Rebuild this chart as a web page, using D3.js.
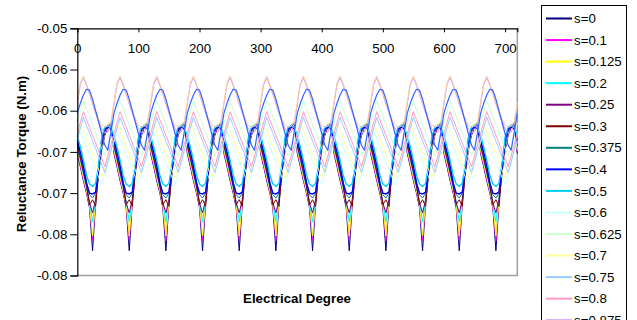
<!DOCTYPE html>
<html>
<head>
<meta charset="utf-8">
<script src="https://cdn.jsdelivr.net/npm/d3@7"></script>
<style>
  body { margin: 0; background: #fff; }
  svg { display: block; font-family: Arial, "Liberation Sans", sans-serif; }
</style>
</head>
<body>
<svg id="chart" width="637" height="320"></svg>
<script>
// series names (legend order)
const sLabels = ['s=0', 's=0.1', 's=0.125', 's=0.2', 's=0.25', 's=0.3', 's=0.375', 's=0.4',
  's=0.5', 's=0.6', 's=0.625', 's=0.7', 's=0.75', 's=0.8', 's=0.875', 's=0.9', 's=1'];

// one 60 deg period, every 5 deg (all 12 periods look the same)
const periodDeg = [0, 5, 10, 15, 20, 25, 30, 35, 40, 45, 50, 55];
const torqueS0    = [-0.0652, -0.0668, -0.0685, -0.0700, -0.0718, -0.0770, -0.0712, -0.0675, -0.0648, -0.0630, -0.0620, -0.0615];
const torqueS010  = [-0.0650, -0.0666, -0.0683, -0.0698, -0.0715, -0.0758, -0.0710, -0.0673, -0.0646, -0.0628, -0.0619, -0.0614];
const torqueS0125 = [-0.0648, -0.0664, -0.0681, -0.0697, -0.0714, -0.0752, -0.0709, -0.0672, -0.0645, -0.0627, -0.0617, -0.0613];
const torqueS020  = [-0.0645, -0.0660, -0.0677, -0.0693, -0.0710, -0.0735, -0.0706, -0.0670, -0.0643, -0.0626, -0.0617, -0.0615];
const torqueS025  = [-0.0643, -0.0658, -0.0675, -0.0691, -0.0712, -0.0724, -0.0708, -0.0671, -0.0642, -0.0625, -0.0618, -0.0617];
const torqueS030  = [-0.0641, -0.0656, -0.0673, -0.0690, -0.0714, -0.0708, -0.0716, -0.0673, -0.0641, -0.0625, -0.0619, -0.0619];
const torqueS0375 = [-0.0638, -0.0652, -0.0668, -0.0686, -0.0702, -0.0706, -0.0700, -0.0668, -0.0638, -0.0624, -0.0620, -0.0621];
const torqueS040  = [-0.0636, -0.0650, -0.0666, -0.0688, -0.0700, -0.0701, -0.0699, -0.0670, -0.0636, -0.0622, -0.0620, -0.0622];
const torqueS050  = [-0.0630, -0.0644, -0.0660, -0.0678, -0.0689, -0.0692, -0.0688, -0.0664, -0.0632, -0.0620, -0.0618, -0.0620];
const torqueS060  = [-0.0638, -0.0625, -0.0634, -0.0644, -0.0653, -0.0662, -0.0671, -0.0681, -0.0690, -0.0677, -0.0664, -0.0651];
const torqueS0625 = [-0.0615, -0.0601, -0.0588, -0.0598, -0.0607, -0.0617, -0.0627, -0.0636, -0.0646, -0.0655, -0.0642, -0.0628];
const torqueS070  = [-0.0628, -0.0615, -0.0625, -0.0634, -0.0644, -0.0653, -0.0663, -0.0672, -0.0682, -0.0669, -0.0655, -0.0642];
const torqueS075  = [-0.0635, -0.0621, -0.0608, -0.0618, -0.0627, -0.0637, -0.0646, -0.0656, -0.0665, -0.0675, -0.0662, -0.0648];
const torqueS080  = [-0.0628, -0.0614, -0.0601, -0.0611, -0.0620, -0.0630, -0.0639, -0.0649, -0.0658, -0.0668, -0.0655, -0.0641];
const torqueS0875 = [-0.0592, -0.0568, -0.0560, -0.0569, -0.0580, -0.0592, -0.0603, -0.0613, -0.0622, -0.0627, -0.0626, -0.0616];
const torqueS090  = [-0.0590, -0.0566, -0.0558, -0.0567, -0.0578, -0.0590, -0.0601, -0.0610, -0.0617, -0.0620, -0.0619, -0.0613];
const torqueS1    = [-0.0603, -0.0591, -0.0581, -0.0574, -0.0575, -0.0586, -0.0600, -0.0614, -0.0628, -0.0642, -0.0648, -0.0626];

const periods = 12;
const xTicks = [0, 100, 200, 300, 400, 500, 600, 700];
const yTicks = [-0.05, -0.055, -0.06, -0.065, -0.07, -0.075, -0.08];
const yTickLabels = ['-0.05', '-0.06', '-0.06', '-0.07', '-0.07', '-0.08', '-0.08'];

// Excel default series colours
const colors = ['#000080', '#FF00FF', '#FFFF00', '#00FFFF', '#800080', '#800000', '#008080', '#0000FF',
  '#00CCFF', '#CCFFFF', '#CCFFCC', '#FFFF99', '#99CCFF', '#FF99CC', '#CC99FF', '#FFCC99', '#3366FF'];
const widths = [1, 1, 1, 1, 1, 1, 1, 1.5, 1.3, 1, 1, 1, 1, 1, 1, 1, 1.2];

const periodValues = [torqueS0, torqueS010, torqueS0125, torqueS020, torqueS025, torqueS030, torqueS0375,
  torqueS040, torqueS050, torqueS060, torqueS0625, torqueS070, torqueS075, torqueS080, torqueS0875,
  torqueS090, torqueS1];

const series = periodValues.map((vals, i) => {
  const pts = [];
  for (let k = 0; k < periods; k++) {
    periodDeg.forEach((d, j) => pts.push([k * 60 + d, vals[j]]));
  }
  pts.push([periods * 60, vals[0]]);
  return {name: sLabels[i], color: colors[i], width: widths[i], points: pts};
});

const svg = d3.select('#chart');
const x = d3.scaleLinear().domain([0, 720]).range([77.3, 517.3]);
const y = d3.scaleLinear().domain([-0.08, -0.05]).range([275.5, 28.3]);

// plot frame (right and bottom in grey)
svg.append('path')
  .attr('d', `M${x(0)},${y(-0.08)}H${x(720)}V${y(-0.05)}`)
  .attr('fill', 'none')
  .attr('stroke', '#a0a0a0')
  .attr('stroke-width', 1.5);

const line = d3.line()
  .x(d => x(d[0]))
  .y(d => y(d[1]));

svg.append('g')
  .selectAll('path')
  .data(series)
  .join('path')
    .attr('d', d => line(d.points))
    .attr('fill', 'none')
    .attr('stroke', d => d.color)
    .attr('stroke-width', d => d.width)
    .attr('stroke-linejoin', 'round');

// x axis sits on the top edge, ticks pointing into the plot
const xAxis = svg.append('g')
  .attr('transform', `translate(0,${y(-0.05)})`)
  .call(d3.axisBottom(x).tickValues(xTicks).tickSize(4).tickPadding(11).tickFormat(d3.format('d')));

const yAxis = svg.append('g')
  .attr('transform', `translate(${x(0)},0)`)
  .call(d3.axisLeft(y).tickValues(yTicks).tickSize(7).tickPadding(3)
    .tickFormat((d, i) => yTickLabels[i]));

[xAxis, yAxis].forEach(g => {
  g.selectAll('.domain').attr('stroke', '#000').attr('stroke-width', 1.2);
  g.selectAll('.tick line').attr('stroke', '#000');
  g.selectAll('text').attr('font-size', 13.3).attr('fill', '#000')
    .attr('font-family', 'Arial, "Liberation Sans", sans-serif');
});

// axis titles
svg.append('text')
  .attr('x', 297)
  .attr('y', 303)
  .attr('text-anchor', 'middle')
  .attr('font-size', 13.3)
  .attr('font-weight', 'bold')
  .text('Electrical Degree');

svg.append('text')
  .attr('transform', 'translate(26,154) rotate(-90)')
  .attr('text-anchor', 'middle')
  .attr('font-size', 13.3)
  .attr('font-weight', 'bold')
  .text('Reluctance Torque (N.m)');

// legend, runs off the bottom like the original
const legend = svg.append('g');
legend.append('rect')
  .attr('x', 541.5)
  .attr('y', 5.5)
  .attr('width', 85)
  .attr('height', 400)
  .attr('fill', '#fff')
  .attr('stroke', '#000')
  .attr('stroke-width', 1);

const items = legend.selectAll('g.item')
  .data(series)
  .join('g')
    .attr('class', 'item')
    .attr('transform', (d, i) => `translate(0,${18.5 + i * 21.55})`);

items.append('line')
  .attr('x1', 546)
  .attr('x2', 572)
  .attr('stroke', d => d.color)
  .attr('stroke-width', 2);

items.append('text')
  .attr('x', 574)
  .attr('dy', '0.35em')
  .attr('font-size', 13.3)
  .text(d => d.name);
</script>
</body>
</html>
